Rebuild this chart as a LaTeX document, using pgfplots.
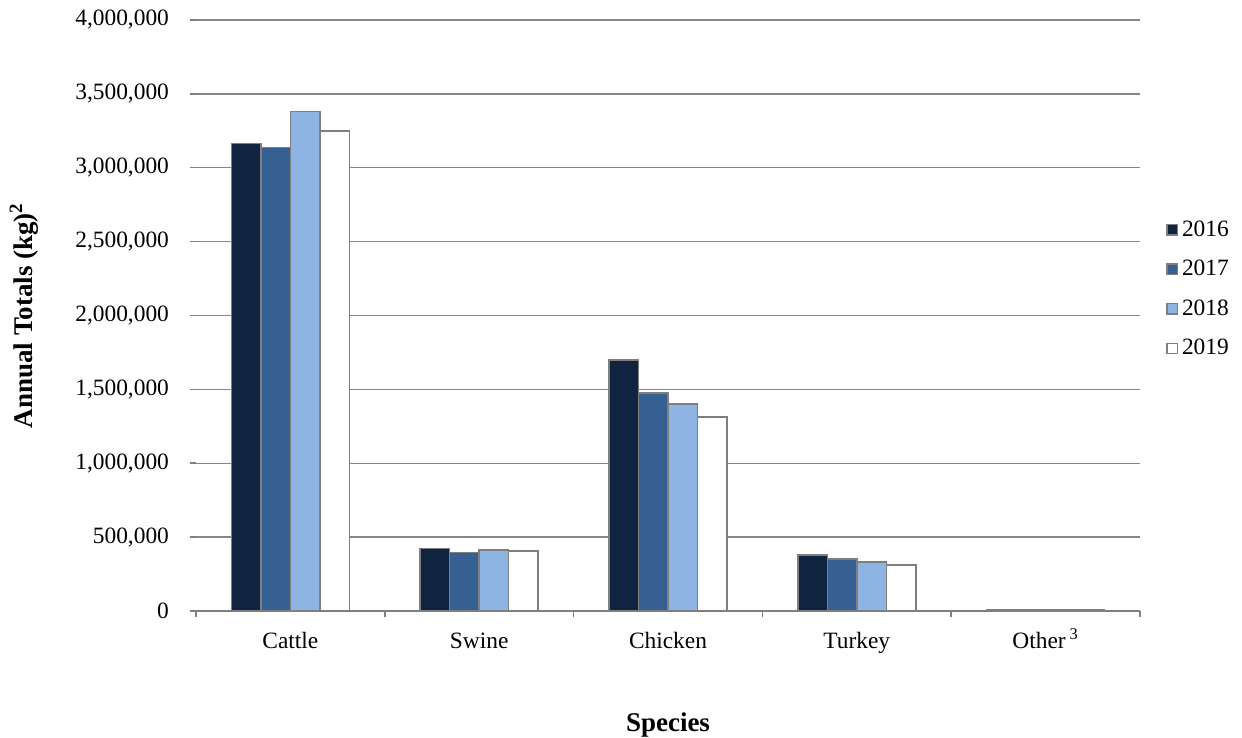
\documentclass[border=0pt]{standalone}
\usepackage{fontspec}
\setmainfont{Liberation Serif}
\usepackage{pgfplots}
\pgfplotsset{compat=1.18}
\definecolor{c16}{HTML}{10243F}
\definecolor{c17}{HTML}{366092}
\definecolor{c18}{HTML}{8DB4E2}
\definecolor{c19}{HTML}{FFFFFF}
\definecolor{edge}{HTML}{7F7F7F}
\definecolor{gridc}{HTML}{868686}
\begin{document}
\begin{tikzpicture}
\useasboundingbox (-98pt,-63.5pt) rectangle (523pt,305.5pt);
\begin{axis}[
  at={(0,0)}, anchor=south west,
  scale only axis, width=472pt, height=295.5pt,
  xmin=-0.5, xmax=4.5, ymin=0, ymax=4000000,
  ybar=0pt, bar width=14.75pt,
  axis x line*=bottom, axis y line*=left,
  y axis line style={draw=none},
  x axis line style={draw=edge, line width=0.75pt},
  xtick={0,1,2,3,4},
  xticklabels={Cattle, Swine, Chicken, Turkey, Other\,\smash{\textsuperscript{3}}},
  major x tick style={draw=none},
  minor xtick={-0.5,0.5,1.5,2.5,3.5,4.5},
  minor x tick style={draw=edge, line width=0.75pt},
  minor tick length=3pt,
  xtick pos=bottom, tick align=outside,
  ytick={0,500000,...,4000000},
  ytick style={draw=edge, line width=0.75pt},
  major tick length=3pt,
  ymajorgrids, grid style={draw=gridc, line width=0.7pt},
  scaled y ticks=false,
  /pgf/number format/fixed,
  /pgf/number format/1000 sep={,},
  /pgf/number format/assume math mode=true,
  ticklabel style={font=\fontsize{11.7}{13}\selectfont},
  xticklabel style={yshift=-4pt, text height=8pt},
  yticklabel style={xshift=-7pt},
  xlabel={\textbf{Species}},
  xlabel style={at={(axis description cs:0.5,0)}, anchor=center, yshift=-57pt, font=\fontsize{13.5}{15}\selectfont},
  ylabel={\textbf{Annual Totals (kg)\textsuperscript{2}}},
  ylabel style={at={([xshift=-86pt]axis description cs:0,0.5)}, anchor=center, font=\fontsize{13.5}{15}\selectfont},
  legend style={draw=none, fill=none, at={(1.021,0.675)}, anchor=north west,
    font=\fontsize{11.7}{13}\selectfont, row sep=6.5pt},
  legend cell align=left,
  legend image code/.code={\draw[#1, line width=0.7pt] (0pt,-2.6pt) rectangle (5.2pt,2.6pt);},
  every axis plot/.append style={draw=edge, line width=0.75pt},
]
\addplot[fill=c16] coordinates {(0,3163000) (1,423000) (2,1699000) (3,379000) (4,9000)};
\addplot[fill=c17] coordinates {(0,3138000) (1,396000) (2,1475000) (3,352000) (4,8000)};
\addplot[fill=c18] coordinates {(0,3382000) (1,414000) (2,1400000) (3,332000) (4,8000)};
\addplot[fill=c19] coordinates {(0,3248000) (1,405000) (2,1313000) (3,313000) (4,7000)};
\legend{2016,2017,2018,2019}
\end{axis}
\end{tikzpicture}
\end{document}
